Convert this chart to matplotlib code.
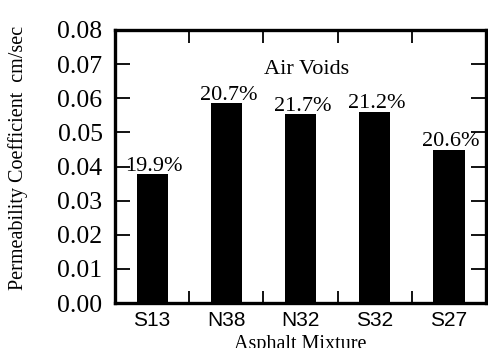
import matplotlib
matplotlib.use("Agg")
import matplotlib.pyplot as plt

# Data
mixtures = ["S13", "N38", "N32", "S32", "S27"]
permeability = [0.0378, 0.0586, 0.0554, 0.0560, 0.0449]
air_voids = ["19.9%", "20.7%", "21.7%", "21.2%", "20.6%"]
y_ticks = [0.00, 0.01, 0.02, 0.03, 0.04, 0.05, 0.06, 0.07, 0.08]

serif = "Liberation Serif"
sans = "Liberation Sans"

fig = plt.figure(figsize=(4.88, 3.48), dpi=100)
ax = fig.add_axes([0.2357, 0.1293, 0.7603, 0.7845])

x = list(range(len(mixtures)))
ax.bar(x, permeability, width=0.42, color="black")

# Air voids labels above bars
for xi, val, lab in zip(x, permeability, air_voids):
    ax.text(xi + 0.03, val + 0.0010, lab, ha="center", va="baseline",
            fontsize=16, family=serif)
ax.text(2.08, 0.0672, "Air Voids", ha="center", va="baseline",
        fontsize=16, family=serif)

ax.set_xlim(-0.5, 4.5)
ax.set_ylim(0, 0.08)

# Category labels at bar centers, tick marks at the boundaries
ax.set_xticks(x)
ax.set_xticklabels(mixtures, family=sans, fontsize=15)
ax.tick_params(axis="x", which="major", length=0, pad=6)
ax.set_xticks([0.5, 1.5, 2.5, 3.5], minor=True)
ax.tick_params(axis="x", which="minor", direction="in", length=9, width=1.3,
               top=True, bottom=True)

ax.set_yticks(y_ticks)
ax.set_yticklabels([f"{v:.2f}" for v in y_ticks], family=serif, fontsize=18.5)
ax.tick_params(axis="y", direction="in", length=11, width=1.3,
               left=True, right=True, pad=9)

for s in ax.spines.values():
    s.set_linewidth(2.4)

ax.set_ylabel("Permeability Coefficient  cm/sec", family=serif, fontsize=14.5)
ax.yaxis.set_label_coords(-0.235, 0.53)
ax.set_xlabel("Asphalt Mixture", family=serif, fontsize=14.5)
ax.xaxis.set_label_coords(0.5, -0.118)

fig.savefig("out.png", dpi=100)
